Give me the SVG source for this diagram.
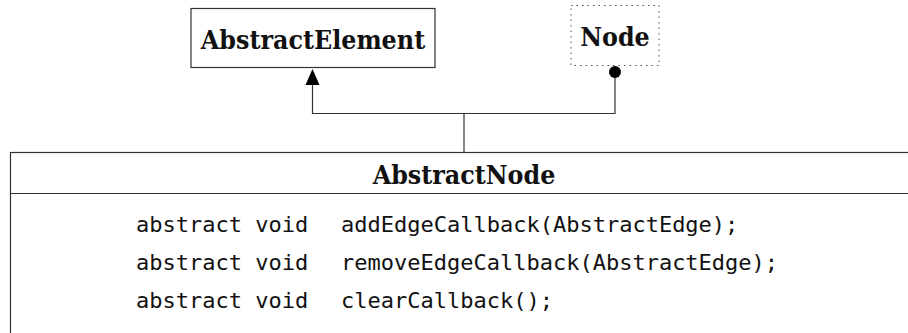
<svg xmlns="http://www.w3.org/2000/svg" width="908" height="333" viewBox="0 0 908 333">
<style>
.box{fill:#fff;stroke:#333;stroke-width:1.2}
.dot{fill:#fff;stroke:#555;stroke-width:1;stroke-dasharray:1.5 4}
.title{font-family:"DejaVu Serif Condensed","DejaVu Serif",serif;font-weight:bold;font-size:26.5px;fill:#111;text-anchor:middle}
.mono{font-family:"DejaVu Sans Mono","Liberation Mono",monospace;font-size:22px;fill:#111}
.conn{fill:none;stroke:#333;stroke-width:1.2}
</style>
<g id="connectors">
<path class="conn" d="M312.5,84 L312.5,113.5 L615,113.5 L615,76"/>
<path d="M305.5,85 L312.5,69 L319.5,85 Z" fill="#000"/>
<circle cx="615" cy="72" r="6" fill="#000"/>
<path class="conn" d="M464,113.5 L464,152.5"/>
</g>
<g id="AbstractElement">
<rect class="box" x="191" y="8.5" width="244" height="59"/>
<text class="title" x="313" y="49">AbstractElement</text>
</g>
<g id="Node">
<rect class="dot" x="571" y="5.5" width="88" height="60"/>
<text class="title" x="615" y="46">Node</text>
</g>
<g id="AbstractNode">
<rect class="box" x="10.5" y="152.5" width="920" height="200"/>
<line class="conn" x1="10.5" y1="193.5" x2="908" y2="193.5"/>
<text class="title" x="464" y="184">AbstractNode</text>
<text class="mono" x="136" y="232">abstract void</text>
<text class="mono" x="341" y="232">addEdgeCallback(AbstractEdge);</text>
<text class="mono" x="136" y="270">abstract void</text>
<text class="mono" x="341" y="270">removeEdgeCallback(AbstractEdge);</text>
<text class="mono" x="136" y="308">abstract void</text>
<text class="mono" x="341" y="308">clearCallback();</text>
</g>
</svg>
